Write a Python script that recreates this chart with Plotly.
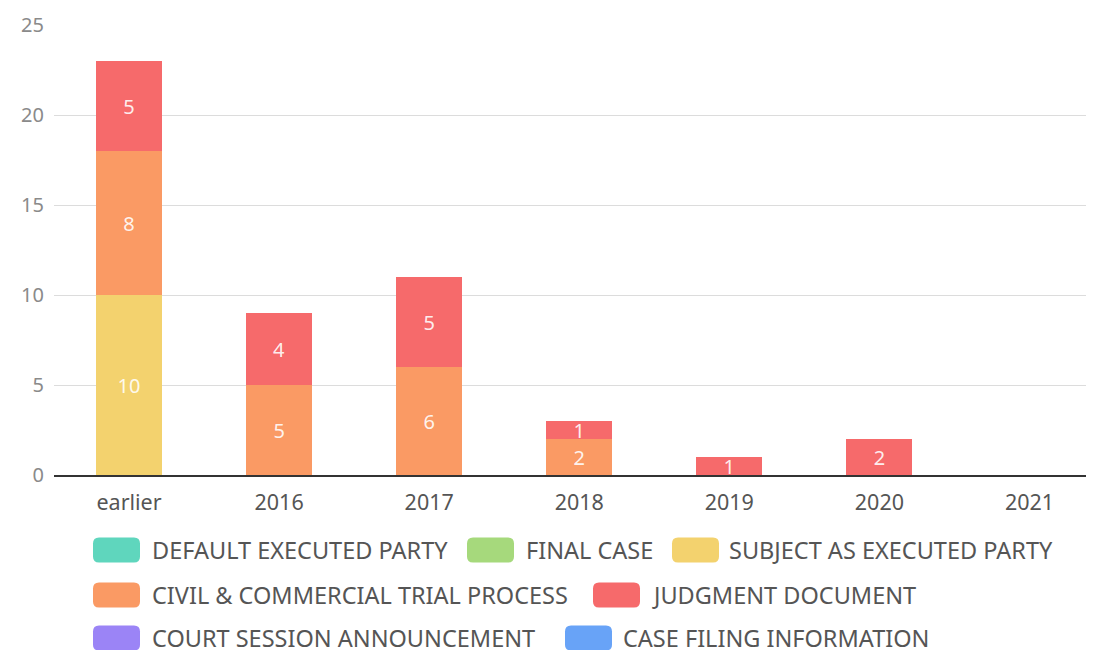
import plotly.graph_objects as go

categories = ['earlier', '2016', '2017', '2018', '2019', '2020', '2021']

series_names = [
    'DEFAULT EXECUTED PARTY',
    'FINAL CASE',
    'SUBJECT AS EXECUTED PARTY',
    'CIVIL & COMMERCIAL TRIAL PROCESS',
    'JUDGMENT DOCUMENT',
    'COURT SESSION ANNOUNCEMENT',
    'CASE FILING INFORMATION',
]

default_executed = [0, 0, 0, 0, 0, 0, 0]
final_case = [0, 0, 0, 0, 0, 0, 0]
subject_executed = [10, 0, 0, 0, 0, 0, 0]
civil_commercial = [8, 5, 6, 2, 0, 0, 0]
judgment_document = [5, 4, 5, 1, 1, 2, 0]
court_session = [0, 0, 0, 0, 0, 0, 0]
case_filing = [0, 0, 0, 0, 0, 0, 0]

series_values = [default_executed, final_case, subject_executed, civil_commercial,
                 judgment_document, court_session, case_filing]

colours = ['#5fd6bd', '#a6d97c', '#f3d26e', '#fa9a64', '#f66a6b', '#9b84f6', '#68a3f7']

# the page body adds an 8px margin, so the figure is drawn 8px smaller and shifted
OFF = 8
W, H = 1094 - OFF, 650 - OFF
L, R, T = 54 - OFF, 0, 25 - OFF
PLOT_H = 450
B = H - T - PLOT_H
FONT = 'Noto Sans'


def px_x(x):
    # window pixel -> paper fraction
    return (x - OFF - L) / (W - L - R)


def px_y(y):
    return (T + PLOT_H - (y - OFF)) / PLOT_H


fig = go.Figure()
for name, vals, col in zip(series_names, series_values, colours):
    fig.add_trace(go.Bar(
        x=categories, y=vals, name=name, marker_color=col, marker_line_width=0,
        text=[str(v) if v else '' for v in vals], textposition='inside',
        insidetextanchor='middle', textangle=0,
        textfont=dict(color='rgba(255,255,255,0.9)', size=20, family=FONT),
        showlegend=False,
    ))

# hand-drawn legend with rounded swatches: (swatch left px, text left px, row centre px)
legend_layout = [(93, 150, 550), (467, 524, 550), (672, 727, 550),
                 (93, 150, 595), (593, 650, 595),
                 (93, 150, 638), (565, 621, 638)]
shapes = []
annotations = []
for (sx, tx, ry), name, col in zip(legend_layout, series_names, colours):
    r = 6
    w, h = 47, 25
    path = (f'M {-w/2 + r},{-h/2} L {w/2 - r},{-h/2} Q {w/2},{-h/2} {w/2},{-h/2 + r} '
            f'L {w/2},{h/2 - r} Q {w/2},{h/2} {w/2 - r},{h/2} L {-w/2 + r},{h/2} '
            f'Q {-w/2},{h/2} {-w/2},{h/2 - r} L {-w/2},{-h/2 + r} Q {-w/2},{-h/2} {-w/2 + r},{-h/2} Z')
    shapes.append(dict(type='path', xref='paper', yref='paper', xsizemode='pixel', ysizemode='pixel',
                       xanchor=px_x(sx + w / 2), yanchor=px_y(ry), path=path,
                       fillcolor=col, line_width=0, layer='above'))
    annotations.append(dict(text=name, xref='paper', yref='paper', x=px_x(tx), y=px_y(ry),
                            xanchor='left', yanchor='middle', showarrow=False,
                            font=dict(size=23.5, color='#555555', family=FONT)))

fig.update_layout(
    barmode='stack', bargap=0.56,
    width=W, height=H, margin=dict(l=L, r=R, t=T, b=B, pad=0),
    plot_bgcolor='white', paper_bgcolor='white',
    shapes=shapes, annotations=annotations,
    uniformtext=dict(minsize=20, mode='show'),
    xaxis=dict(range=[-0.5, 6.43], showgrid=False, showline=True, linecolor='#333333', linewidth=1.5,
               ticks='', ticklabelstandoff=7,
               tickfont=dict(size=21.5, color='#555555', family=FONT)),
    yaxis=dict(range=[0, 25], dtick=5, showgrid=True, gridcolor='#dcdcdc', gridwidth=1,
               zeroline=False, ticks='', ticklabelstandoff=9,
               tickfont=dict(size=20, color='#8a8a8a', family=FONT)),
)

fig.write_html('out.html')
